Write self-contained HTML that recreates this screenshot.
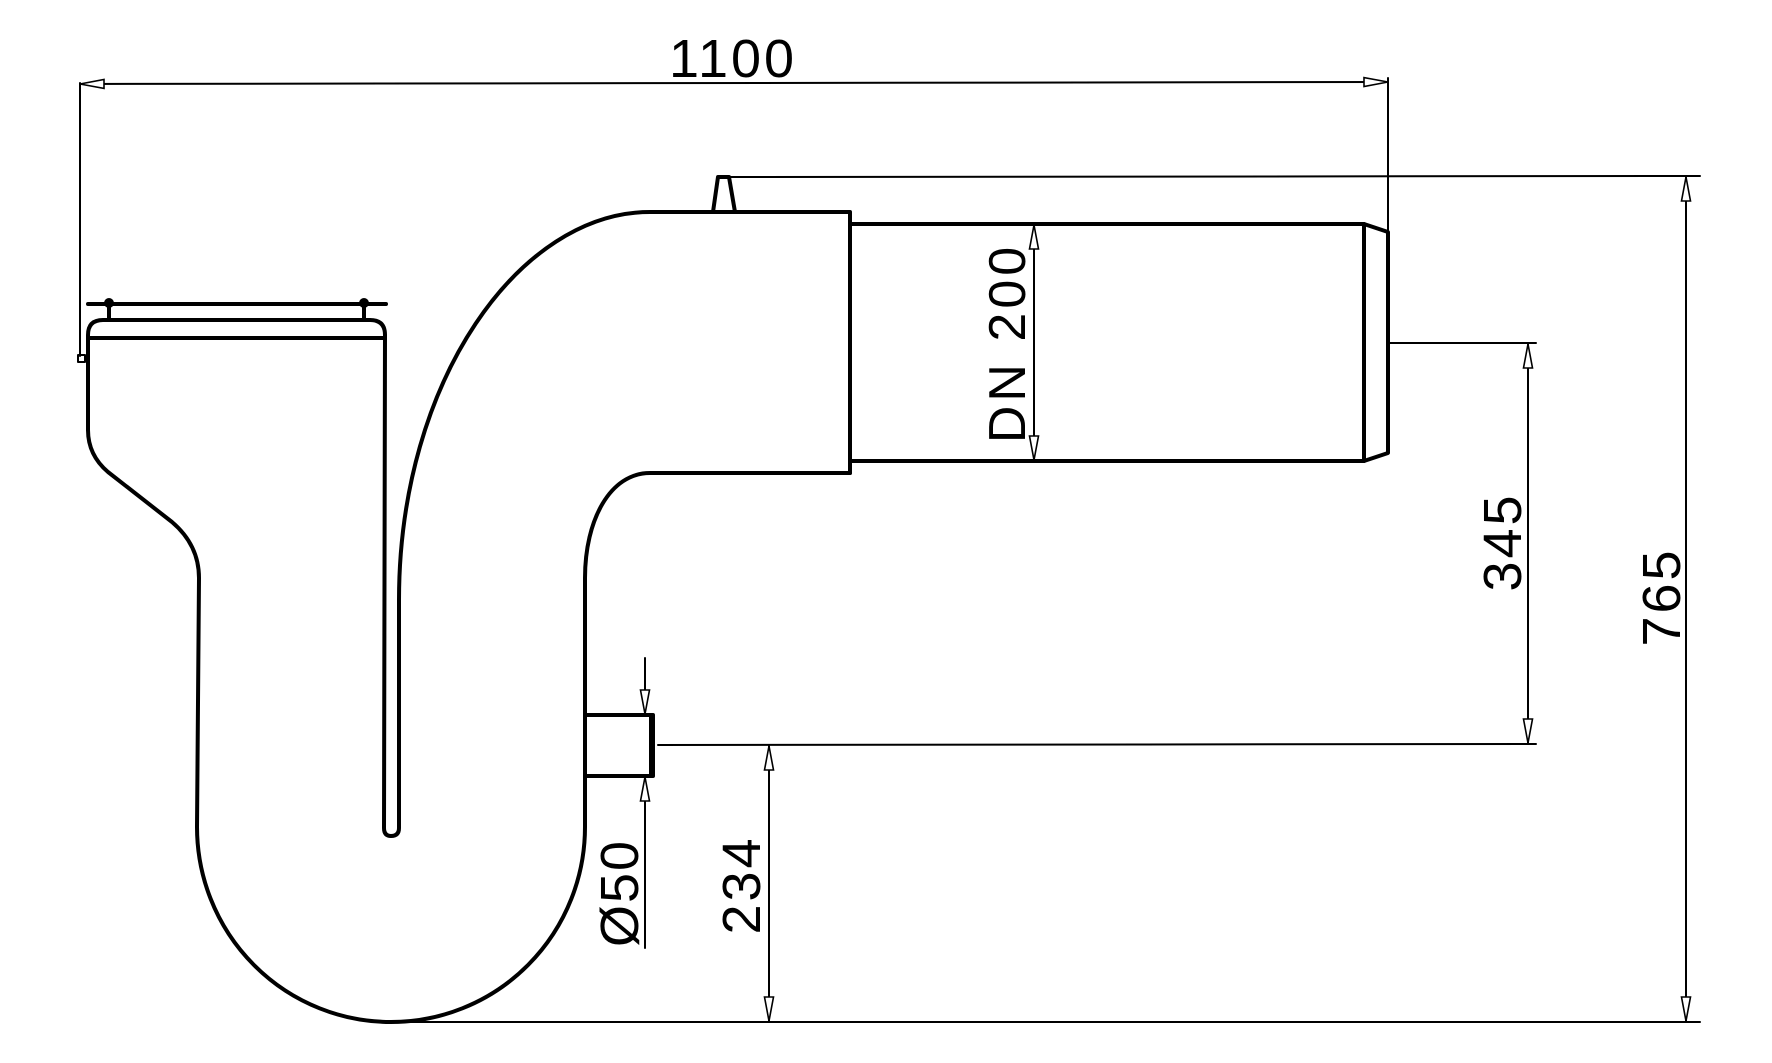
<!DOCTYPE html>
<html><head><meta charset="utf-8"><style>
html,body{margin:0;padding:0;background:#fff;}
svg{display:block;}
text{font-family:"Liberation Sans","DejaVu Sans",sans-serif;fill:#000;}
</style></head><body>
<svg width="1772" height="1063" viewBox="0 0 1772 1063" xmlns="http://www.w3.org/2000/svg">
<defs>
<marker id="a" markerUnits="userSpaceOnUse" markerWidth="30" markerHeight="14" viewBox="-26 -7 30 14" refX="0" refY="0" orient="auto-start-reverse">
<path d="M0,0 L-24,-4.5 L-24,4.5 Z" fill="#fff" stroke="#000" stroke-width="1.6"/>
</marker>
</defs>
<g fill="none" stroke="#000" stroke-linecap="round" stroke-linejoin="round">
<g stroke-width="4">
<line x1="88" y1="304" x2="386" y2="304"/>
<line x1="109" y1="302" x2="109" y2="320"/>
<line x1="364" y1="302" x2="364" y2="320"/>
<path d="M88,430 L88,335 Q88,320 103,320 L370,320 Q385,320 385,335"/>
<line x1="88" y1="338" x2="385" y2="338"/>
<path d="M88,430 Q88,455 108,472 L172,522 Q199,545 199,578 L197,827 A194,195 0 0 0 585,827 L585,578 C585,520 610,473 650,473 L850,473"/>
<path d="M385,335 L384,828 Q384,836 391,836 Q399,836 399,828 L399,600 C399,380 520,212 650,212 L850,212 L850,473"/>
<path d="M850,224 L1364,224 L1388,232 L1388,453 L1364,461 L850,461"/>
<line x1="1364" y1="224" x2="1364" y2="461"/>
<path d="M713,212 L718,177 L729,177 L735,212"/>
<rect x="585" y="715" width="68" height="61"/>
<line x1="650" y1="715" x2="650" y2="776" stroke-width="2"/>
</g>
<circle cx="109" cy="303" r="5" fill="#000" stroke="none"/>
<circle cx="364" cy="303" r="5" fill="#000" stroke="none"/>
<rect x="78" y="355" width="7" height="7" stroke-width="2"/>
<g stroke-width="2">
<line x1="80" y1="83" x2="80" y2="356"/>
<line x1="1388" y1="78" x2="1388" y2="232"/>
<line x1="80" y1="84" x2="1388" y2="82" marker-start="url(#a)" marker-end="url(#a)"/>
<line x1="729" y1="177" x2="1700" y2="176"/>
<line x1="390" y1="1022" x2="1700" y2="1022"/>
<line x1="1686" y1="177" x2="1686" y2="1021" marker-start="url(#a)" marker-end="url(#a)"/>
<line x1="1388" y1="343" x2="1536" y2="343"/>
<line x1="658" y1="745" x2="1536" y2="744"/>
<line x1="1528" y1="344" x2="1528" y2="743" marker-start="url(#a)" marker-end="url(#a)"/>
<line x1="769" y1="746" x2="769" y2="1021" marker-start="url(#a)" marker-end="url(#a)"/>
<line x1="1034" y1="225" x2="1034" y2="460" marker-start="url(#a)" marker-end="url(#a)"/>
<line x1="645" y1="658" x2="645" y2="714" marker-end="url(#a)"/>
<line x1="645" y1="948" x2="645" y2="777" marker-end="url(#a)"/>
</g>
</g>
<text x="733" y="77" font-size="54" text-anchor="middle" letter-spacing="3">1100</text>
<text transform="translate(1680,597) rotate(-90)" font-size="54" text-anchor="middle" letter-spacing="3">765</text>
<text transform="translate(1521,542) rotate(-90)" font-size="54" text-anchor="middle" letter-spacing="3">345</text>
<text transform="translate(760,885) rotate(-90)" font-size="54" text-anchor="middle" letter-spacing="3">234</text>
<text transform="translate(638,893) rotate(-90)" font-size="54" text-anchor="middle" letter-spacing="2">Ø50</text>
<text transform="translate(1025,343) rotate(-90)" font-size="52" text-anchor="middle" letter-spacing="4">DN 200</text>
</svg>
</body></html>
